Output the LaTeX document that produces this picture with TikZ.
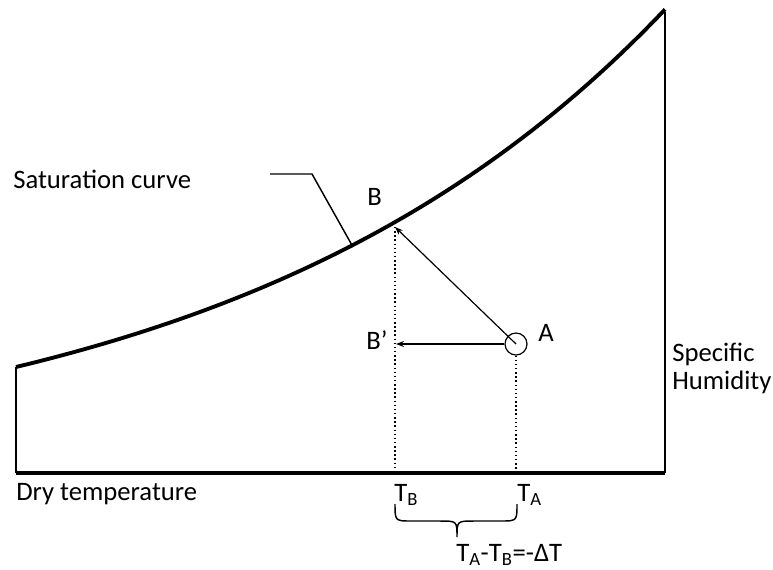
\documentclass[tikz,border=0pt]{standalone}
\usepackage{fontspec}
\setmainfont{Carlito}
\usetikzlibrary{positioning,arrows.meta,calc}

\begin{document}
\begin{tikzpicture}[
  x=0.75pt,y=-0.75pt,
  lbl/.style={inner sep=0pt,anchor=base west,font=\fontsize{20}{21}\selectfont},
  axis/.style={line width=2.6pt},
  side/.style={line width=1.7pt},
  satcurve/.style={line width=2.9pt},
  guide/.style={dotted,line width=1.1pt},
  arr/.style={-{Stealth[length=6pt,width=4.5pt]},line width=0.9pt}
]
\useasboundingbox (0,0) rectangle (773,569);
% frame of the chart
\coordinate (o) at (16,473);
\coordinate (e) at (665,473);
\coordinate (lt) at (16,367);
\coordinate (rt) at (665,12);
\draw[side] (o) -- (lt);
\draw[side] (e) -- (rt);
\draw[axis] (o) -- (e);
\draw[satcurve] plot[domain=16:665,samples=60] ({\x},{473-106*exp(0.002281*(\x-16))});
% states
\coordinate (B) at (395,227);
\coordinate (Bp) at (396,344);
\node[circle,draw,line width=0.9pt,minimum size=16.5pt,inner sep=0pt] (A) at (516,344) {};
\coordinate (TB) at (395,473);
\coordinate (TA) at (516,473);
\draw[arr] (A.center) -- (B);
\draw[arr] (A) -- (Bp);
\draw[guide] (B) -- (TB);
\draw[guide] (A.south) -- (TA);
% labels
\node[lbl] (sat) at (13,188) {Saturation curve};
\coordinate (k1) at (270,174);
\coordinate (k2) at (312,174);
\coordinate (k3) at (353,247);
\draw[line width=1.1pt] (k1) -- (k2) -- (k3);
\node[lbl] (lB) at (367,205) {B};
\node[lbl] (lBp) at (366,349) {B’};
\node[lbl] (lA) at (538,341) {A};
\node[lbl,align=left] (hum) at (672,389) {Specific\\Humidity};
\node[lbl] (dry) at (16,500) {Dry temperature};
\node[lbl] (lTB) at (394,501) {T\textsubscript{B}};
\node[lbl] (lTA) at (517,501) {T\textsubscript{A}};
% brace under the two temperatures
\coordinate (b1) at (395,504);
\coordinate (bm) at (457,537);
\coordinate (b2) at (517,504);
\draw[line width=1.1pt] (b1) .. controls (395,521) and (395,521) .. (412,521)
  -- (440,521) .. controls (457,521) .. (bm)
  .. controls (457,521) .. (474,521) -- (500,521)
  .. controls (517,521) and (517,521) .. (b2);
\node[lbl] (dT) at (456,561) {T\textsubscript{A}-T\textsubscript{B}=-ΔT};
\end{tikzpicture}
\end{document}
